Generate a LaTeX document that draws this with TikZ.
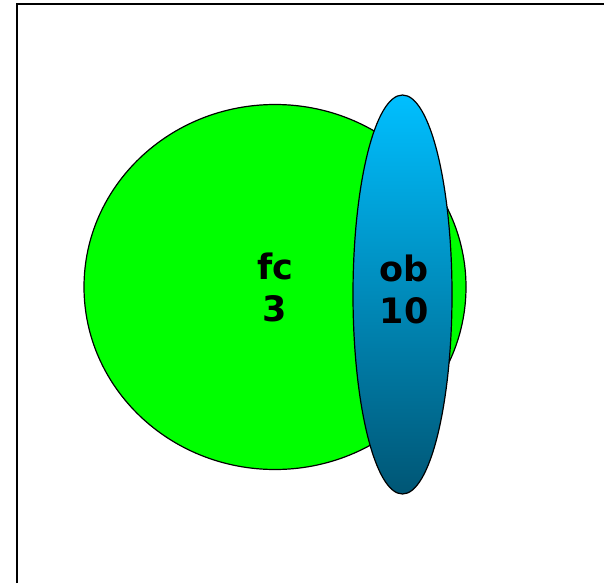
\documentclass[tikz,border=0pt]{standalone}
\usepackage{fontspec}
\setmainfont{DejaVu Sans}
\usetikzlibrary{shapes.geometric}
\definecolor{setgreen}{HTML}{00FF00}
\definecolor{obtop}{HTML}{00BFFF}
\definecolor{obbottom}{HTML}{005675}

\begin{document}
\begin{tikzpicture}[x=1pt,y=-1pt,every node/.style={font=\fontsize{35}{42}\selectfont\bfseries},set/.style={ellipse,draw=black,line width=1.2pt,inner sep=0pt,align=center}]
  \useasboundingbox (0,0) rectangle (604,583);
  \draw[line width=2pt] (17,583) -- (17,4) -- (604,4);
  \node[set,fill=setgreen,minimum width=382pt,minimum height=365pt] (fc) at (275,287) {fc\\3};
  \node[set,top color=obtop,bottom color=obbottom,minimum width=99pt,minimum height=399pt] (ob) at (402.5,294.5) {};
  \node[align=center] (oblabel) at (404,289) {ob\\10};
\end{tikzpicture}
\end{document}
